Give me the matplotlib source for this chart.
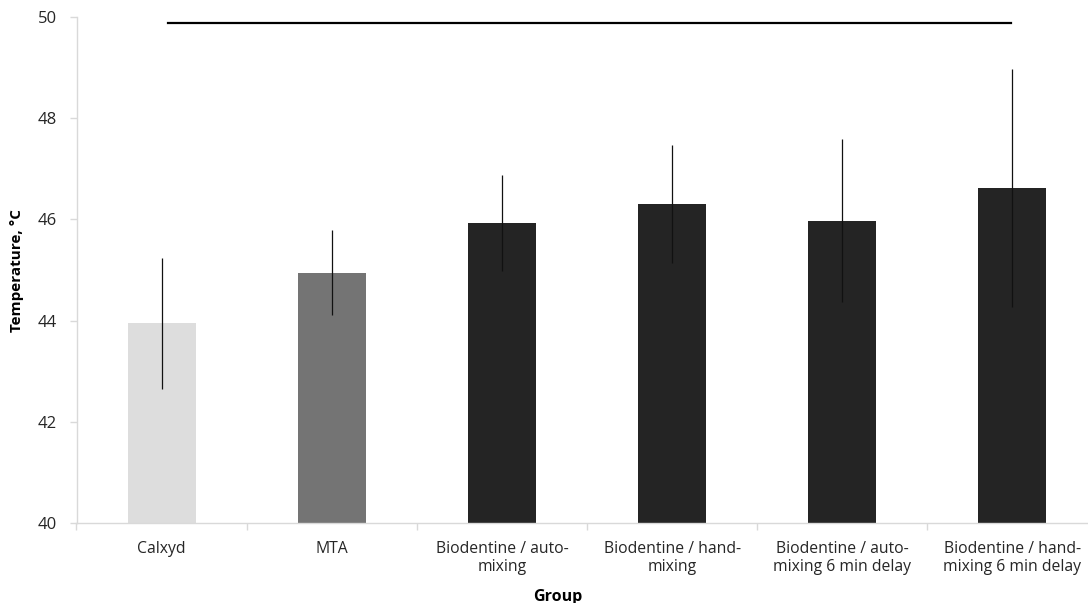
import numpy as np
import matplotlib.pyplot as plt
from matplotlib.ticker import FixedLocator

plt.rcParams['font.family'] = ['Open Sans', 'DejaVu Sans']

groups = ["Calxyd", "MTA", "Biodentine / auto-\nmixing", "Biodentine / hand-\nmixing",
          "Biodentine / auto-\nmixing 6 min delay", "Biodentine / hand-\nmixing 6 min delay"]
means = [43.95, 44.95, 45.93, 46.30, 45.97, 46.61]
sds = [1.29, 0.83, 0.95, 1.17, 1.61, 2.35]
colors = ["#dddddd", "#747474", "#242424", "#242424", "#242424", "#242424"]
ref_level = 49.87
ref_span = [0.04, 4.99]

fig = plt.figure(figsize=(10.88, 6.03), dpi=100)
# axes run a little past the right edge, as in the original
ax = fig.add_axes([76.5 / 1088, 1 - 523.3 / 603, 1021 / 1088, 506.6 / 603])

x = np.arange(len(groups))
ax.bar(x, [m - 40 for m in means], bottom=40, width=0.4, color=colors, zorder=2)
ax.errorbar(x, means, yerr=sds, fmt='none', ecolor='#111111', elinewidth=0.9,
            capsize=0, zorder=3)
ax.plot(ref_span, [ref_level, ref_level], color='black', lw=1.6, zorder=3)

ax.set_xlim(-0.5, len(groups) - 0.5)
ax.set_ylim(40, 50)
ax.set_yticks([40, 42, 44, 46, 48, 50])
ax.set_xticks(x)
ax.set_xticklabels(groups, fontsize=11.3, linespacing=1.1)
ax.xaxis.set_minor_locator(FixedLocator(np.arange(-0.5, len(groups), 1.0)))
ax.tick_params(axis='x', which='major', length=0, pad=13)
ax.tick_params(axis='x', which='minor', length=5, color='#d9d9d9', width=1)
ax.tick_params(axis='y', length=5, color='#d9d9d9', width=1, pad=9, labelsize=12,
               labelcolor='#262626')
ax.tick_params(axis='x', labelcolor='#262626')

for s in ['top', 'right']:
    ax.spines[s].set_visible(False)
for s in ['left', 'bottom']:
    ax.spines[s].set_color('#d9d9d9')
    ax.spines[s].set_linewidth(1)

fig.text(17 / 1088, 1 - 270 / 603, "Temperature, °C", rotation=90, ha='center', va='center',
         fontsize=11, fontweight='bold')
fig.text(558 / 1088, 1 - 597 / 603, "Group", ha='center', va='center',
         fontsize=11.5, fontweight='bold')

fig.savefig("out.png", dpi=100)
